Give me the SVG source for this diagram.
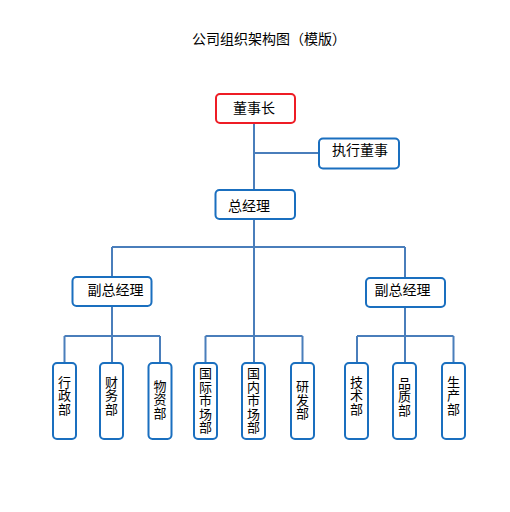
<svg xmlns="http://www.w3.org/2000/svg" width="510" height="512" viewBox="0 0 510 512">
<style>
.box{fill:#fff;stroke:#1a6fbf;stroke-width:2}
.red{fill:#fff;stroke:#ee1c25;stroke-width:2}
.lbl{font-family:"Noto Sans CJK SC","Noto Sans",sans-serif;font-size:14px;fill:#000;text-anchor:middle}
.v{font-family:"Noto Sans CJK SC","Noto Sans",sans-serif;font-size:13px;fill:#000;text-anchor:middle}
.c{fill:none;stroke:#4a7ebb;stroke-width:2}
</style>
<rect width="510" height="512" fill="#fff"/>
<text x="269" y="44" class="lbl">公司组织架构图（模版）</text>
<g id="connectors">
<path class="c" d="M254 123V190M254 153H319M254 219V363M112 247H405M112 247V277M405 247V278"/>
<path class="c" d="M112 306V336M64.5 336H160M64.5 336V363M112 336V363M160 336V363"/>
<path class="c" d="M205.5 336H302.5M205.5 336V363M302.5 336V363"/>
<path class="c" d="M405 307V336M357 336H453.5M357 336V363M405 336V363M453.5 336V363"/>
</g>
<g id="chairman"><rect class="red" x="216" y="94" width="79" height="29" rx="4"/><text class="lbl" x="254" y="112.5">董事长</text></g>
<g id="exec-director"><rect class="box" x="319" y="138.5" width="80" height="30" rx="4"/><text class="lbl" x="360" y="155">执行董事</text></g>
<g id="gm"><rect class="box" x="215.5" y="190" width="79.5" height="29" rx="4"/><text class="lbl" x="249" y="211">总经理</text></g>
<g id="vgm-left"><rect class="box" x="72.5" y="277" width="79" height="29" rx="4"/><text class="lbl" x="115.5" y="295">副总经理</text></g>
<g id="vgm-right"><rect class="box" x="366" y="278" width="79" height="29" rx="4"/><text class="lbl" x="402.5" y="295">副总经理</text></g>
<g id="admin"><rect class="box" x="53" y="363" width="23" height="76" rx="4"/><text class="v"><tspan x="64.5" y="386.5">行</tspan><tspan x="64.5" y="400">政</tspan><tspan x="64.5" y="413.5">部</tspan></text></g>
<g id="finance"><rect class="box" x="100" y="363" width="23" height="76" rx="4"/><text class="v"><tspan x="111.5" y="386.5">财</tspan><tspan x="111.5" y="400.2">务</tspan><tspan x="111.5" y="414">部</tspan></text></g>
<g id="materials"><rect class="box" x="148.5" y="363" width="23" height="76" rx="4"/><text class="v"><tspan x="160" y="390.5">物</tspan><tspan x="160" y="404">资</tspan><tspan x="160" y="417.5">部</tspan></text></g>
<g id="intl-market"><rect class="box" x="194" y="363" width="23" height="76" rx="4"/><text class="v"><tspan x="205.5" y="378">国</tspan><tspan x="205.5" y="391.5">际</tspan><tspan x="205.5" y="405">市</tspan><tspan x="205.5" y="418.5">场</tspan><tspan x="205.5" y="432">部</tspan></text></g>
<g id="dom-market"><rect class="box" x="242" y="363" width="23" height="76" rx="4"/><text class="v"><tspan x="253.5" y="378">国</tspan><tspan x="253.5" y="391.5">内</tspan><tspan x="253.5" y="405">市</tspan><tspan x="253.5" y="418.5">场</tspan><tspan x="253.5" y="432">部</tspan></text></g>
<g id="rnd"><rect class="box" x="291" y="363" width="23" height="76" rx="4"/><text class="v"><tspan x="302.5" y="391">研</tspan><tspan x="302.5" y="404.5">发</tspan><tspan x="302.5" y="418">部</tspan></text></g>
<g id="tech"><rect class="box" x="345" y="363" width="23" height="76" rx="4"/><text class="v"><tspan x="356.5" y="386.5">技</tspan><tspan x="356.5" y="400">术</tspan><tspan x="356.5" y="413.5">部</tspan></text></g>
<g id="quality"><rect class="box" x="393" y="363" width="23" height="76" rx="4"/><text class="v"><tspan x="404.5" y="387.5">品</tspan><tspan x="404.5" y="401">质</tspan><tspan x="404.5" y="414.5">部</tspan></text></g>
<g id="production"><rect class="box" x="442" y="363" width="23" height="76" rx="4"/><text class="v"><tspan x="453.5" y="386.5">生</tspan><tspan x="453.5" y="400">产</tspan><tspan x="453.5" y="413.5">部</tspan></text></g>
</svg>
